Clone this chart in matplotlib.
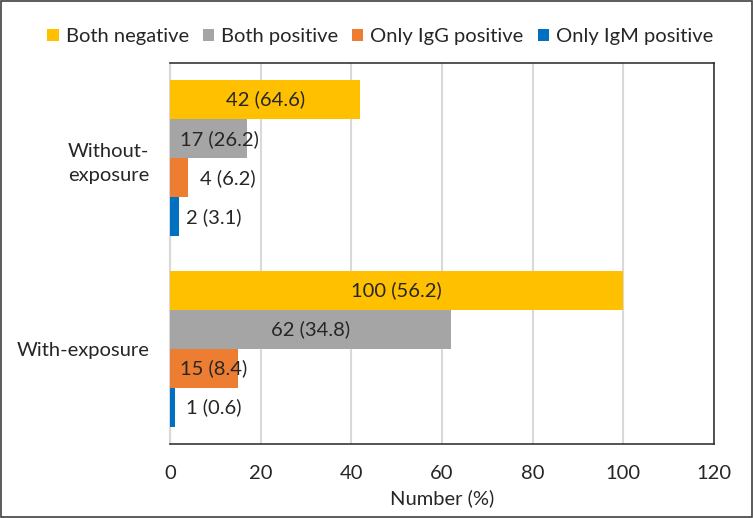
import matplotlib.pyplot as plt
from matplotlib.patches import Rectangle
import numpy as np

plt.rcParams['font.family'] = ['Lato', 'DejaVu Sans']

# data
groups = ['With-exposure', 'Without-\nexposure']
series = ['Both negative', 'Both positive', 'Only IgG positive', 'Only IgM positive']
counts = {
    'Both negative': [100, 42],
    'Both positive': [62, 17],
    'Only IgG positive': [15, 4],
    'Only IgM positive': [1, 2],
}
pcts = {
    'Both negative': [56.2, 64.6],
    'Both positive': [34.8, 26.2],
    'Only IgG positive': [8.4, 6.2],
    'Only IgM positive': [0.6, 3.1],
}
colors = ['#FFC000', '#A5A5A5', '#ED7D31', '#0070C0']
xticks = [0, 20, 40, 60, 80, 100, 120]

fs = 14.5
txtcol = '#262626'

fig = plt.figure(figsize=(7.53, 5.18), dpi=100)
ax = fig.add_axes([0.2258, 0.1429, 0.7224, 0.7355])

y = np.arange(len(groups))
h = 0.205
offsets = [1.5 * h, 0.5 * h, -0.5 * h, -1.5 * h]

for s, c, off in zip(series, colors, offsets):
    ax.barh(y + off, counts[s], height=h, color=c, label=s, zorder=3)
    for yy, v, p in zip(y + off, counts[s], pcts[s]):
        txt = '{0} ({1})'.format(v, p)
        if v >= 40:
            ax.text(v / 2, yy, txt, ha='center', va='center', fontsize=fs, color=txtcol, zorder=4)
        elif v >= 10:
            ax.text(2.2, yy, txt, ha='left', va='center', fontsize=fs, color=txtcol, zorder=4)
        elif v >= 3:
            ax.text(v + 2.6, yy, txt, ha='left', va='center', fontsize=fs, color=txtcol, zorder=4)
        else:
            ax.text(3.5, yy, txt, ha='left', va='center', fontsize=fs, color=txtcol, zorder=4)

ax.set_xlim(0, 120)
ax.set_ylim(-0.5, 1.5)
ax.set_xticks(xticks)
ax.set_yticks(y)
ax.set_yticklabels(groups, multialignment='right')
for lab in ax.get_yticklabels():
    lab.set_linespacing(1.5)
ax.tick_params(axis='both', length=0, labelsize=fs, colors=txtcol)
ax.tick_params(axis='x', pad=15)
ax.tick_params(axis='y', pad=15)
ax.grid(axis='x', color='#D9D9D9', linewidth=1.5, zorder=0)
for sp in ['top', 'right', 'bottom']:
    ax.spines[sp].set_color('#262626')
    ax.spines[sp].set_linewidth(1.1)
    ax.spines[sp].set_zorder(5)
ax.spines['left'].set_color('#D9D9D9')
ax.spines['left'].set_linewidth(1.5)
ax.set_xlabel('Number (%)', fontsize=fs, color=txtcol, labelpad=5)

fig.legend(loc='center', bbox_to_anchor=(0.505, 0.93), ncol=4, frameon=False,
           fontsize=fs, handlelength=0.55, handleheight=0.55, handletextpad=0.35,
           columnspacing=0.7, labelcolor=txtcol)

fig.patches.append(Rectangle((0.001, 0.001), 0.998, 0.998, transform=fig.transFigure,
                             fill=False, edgecolor='#404040', linewidth=1.2))

fig.savefig('out.png', dpi=100)
